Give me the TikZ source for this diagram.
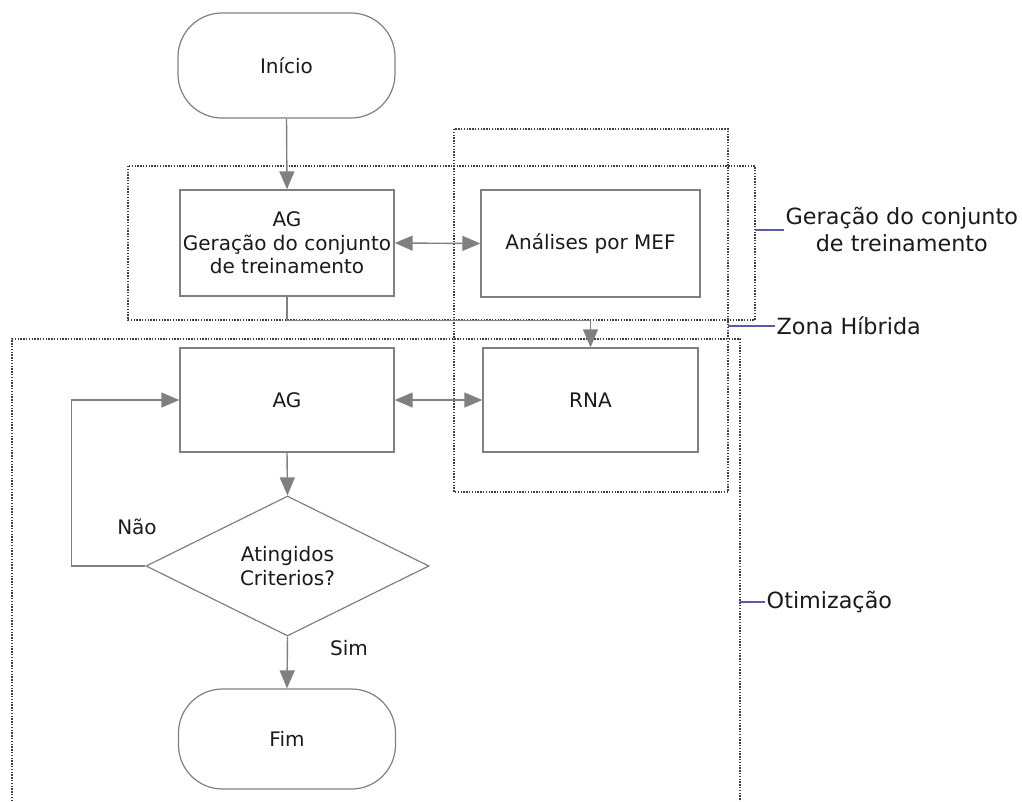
\documentclass[tikz,border=0pt]{standalone}
\usepackage{fontspec}
\setmainfont{DejaVu Sans}
\usetikzlibrary{arrows.meta,shapes.geometric}
\definecolor{boxgray}{HTML}{808080}
\definecolor{dotgray}{HTML}{404040}
\definecolor{labblue}{HTML}{5A5AAA}
\definecolor{txt}{HTML}{1A1A1A}
\begin{document}
\begin{tikzpicture}[x=1pt,y=-1pt,
  every node/.style={text=txt, font=\fontsize{20}{23.5}\selectfont},
  procbox/.style={draw=boxgray, line width=1.4pt, rectangle, inner sep=0pt, align=center},
  term/.style={draw=boxgray, line width=1.2pt, rectangle, rounded corners=44pt, inner sep=0pt},
  decis/.style={draw=boxgray, line width=1.2pt, diamond, inner sep=0pt, align=center},
  flow/.style={draw=boxgray, line width=1.4pt, -{Triangle[length=18pt,width=15pt]}},
  biflow/.style={draw=boxgray, line width=1.4pt, {Triangle[length=18pt,width=15pt]}-{Triangle[length=18pt,width=15pt]}},
  zone/.style={draw=dotgray, line width=1.5pt, dash pattern=on 1.4pt off 1.4pt},
  zonelink/.style={draw=labblue, line width=1.4pt},
  zonelabel/.style={font=\fontsize{22.3}{27}\selectfont, align=center, anchor=west, inner sep=1.5pt}
]
\useasboundingbox (0,0) rectangle (1022,801);

% zones
\draw[zone] (128,166) rectangle (755,320);
\draw[zone] (454,129) rectangle (728,492);
\draw[zone] (12,801) -- (12,339) -- (740,339) -- (740,801);

% nodes
\node[term, minimum width=217pt, minimum height=105pt] (inicio) at (286.5,65.5) {Início};
\node[procbox, minimum width=214pt, minimum height=106pt] (ag1) at (287,243) {AG\\Geração do conjunto\\de treinamento};
\node[procbox, minimum width=219pt, minimum height=107pt] (mef) at (590.5,243.5) {Análises por MEF};
\node[procbox, minimum width=214pt, minimum height=104pt] (ag2) at (287,400) {AG};
\node[procbox, minimum width=215pt, minimum height=104pt] (rna) at (590.5,400) {RNA};
\node[decis, minimum width=283pt, minimum height=140pt] (dec) at (287.5,566) {Atingidos\\Criterios?};
\node[term, minimum width=217pt, minimum height=100pt] (fim) at (287,739) {Fim};

\node (nao) at (137,527) {Não};
\node (sim) at (349,648) {Sim};

% connectors
\draw[flow] (inicio.south) -- (ag1.north);
\draw[biflow] (ag1.east) -- (mef.west);
\draw[flow] (ag1.south) -- ++(0,24) -| (rna.north);
\draw[biflow] (ag2.east) -- (rna.west);
\draw[flow] (ag2.south) -- (dec.north);
\draw[flow] (dec.south) -- (fim.north);
\draw[flow] (dec.west) -- ++(-74,0) |- (ag2.west);

% zone labels
\coordinate (genR) at (755,230);
\coordinate (hybR) at (728,326);
\coordinate (optR) at (740,602);
\node[zonelabel] (genlab) at (784,229) {Geração do conjunto\\de treinamento};
\node[zonelabel] (hyblab) at (775,326) {Zona Híbrida};
\node[zonelabel] (optlab) at (765,602) {Otimização};
\draw[zonelink] (genR) -- (genR -| genlab.west);
\draw[zonelink] (hybR) -- (hyblab.west);
\draw[zonelink] (optR) -- (optlab.west);
\end{tikzpicture}
\end{document}
